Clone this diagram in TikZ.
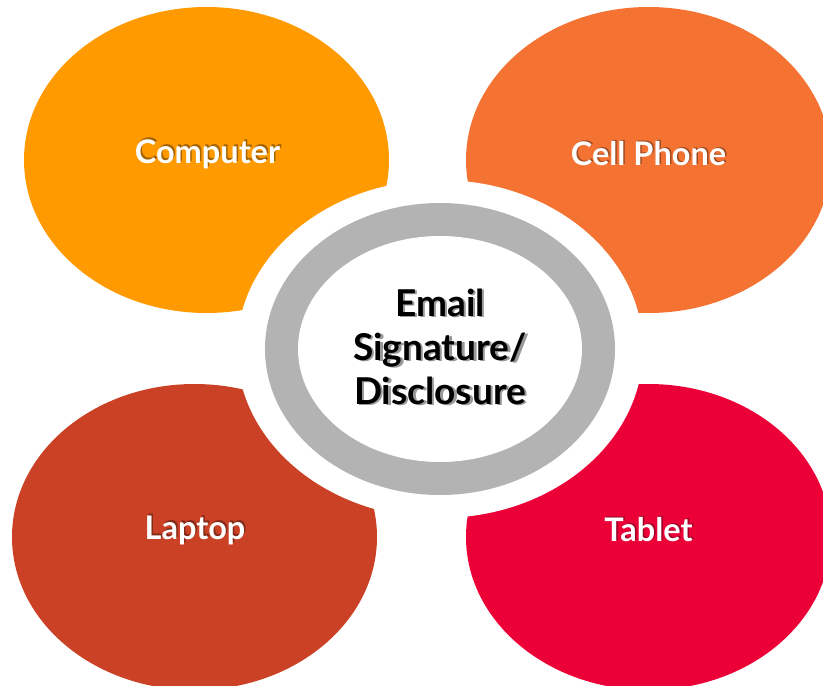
\documentclass[tikz,border=0pt]{standalone}
\usepackage{fontspec}
\setmainfont{Lato}[UprightFont=* Bold]
\definecolor{cOrange}{HTML}{FF9A00}
\definecolor{cCoral}{HTML}{F47333}
\definecolor{cRust}{HTML}{CB4125}
\definecolor{cRed}{HTML}{EB0038}
\definecolor{cGray}{HTML}{B3B3B3}
\begin{document}
\begin{tikzpicture}[x=1pt,y=-1pt,
  lbl/.style={font=\fontsize{32.5}{38}\selectfont, text=white, inner sep=0pt},
  lblsh/.style={font=\fontsize{32.5}{38}\selectfont, text=black, opacity=0.35, inner sep=0pt},
  ctr/.style={font=\fontsize{37}{44}\selectfont, text=black, align=center, inner sep=0pt},
  ctrsh/.style={font=\fontsize{37}{44}\selectfont, text=black!40, align=center, inner sep=0pt}]
\useasboundingbox (0,0) rectangle (823,686);
\clip (0,0) rectangle (823,686);
\coordinate (tl) at (206.5,160);
\coordinate (tr) at (648.5,160);
\coordinate (bl) at (194.5,537);
\coordinate (br) at (648.5,537);
\coordinate (c) at (440,349);
\fill[cOrange] (tl) ellipse [x radius=182.5pt, y radius=153pt];
\fill[cCoral] (tr) ellipse [x radius=182.5pt, y radius=153pt];
\fill[cRust] (bl) ellipse [x radius=182.5pt, y radius=153pt];
\fill[cRed] (br) ellipse [x radius=182.5pt, y radius=153pt];
\fill[white] (c) ellipse [x radius=203pt, y radius=169pt];
\fill[cGray] (c) ellipse [x radius=175pt, y radius=146pt];
\fill[white] (c) ellipse [x radius=142pt, y radius=113pt];
% outer labels
\node[lblsh] (comps) at ([shift={(1.5,-1.5)}]207.5,154) {Computer};
\node[lbl] (comp) at (207.5,154) {Computer};
\node[lblsh] (cells) at ([shift={(1.5,-1.5)}]648.5,154) {Cell Phone};
\node[lbl] (cell) at (648.5,154) {Cell Phone};
\node[lblsh] (laps) at ([shift={(1.5,-1.5)}]195,530) {Laptop};
\node[lbl] (lap) at (195,530) {Laptop};
\node[lblsh] (tabs) at ([shift={(1.5,-1.5)}]648.5,530) {Tablet};
\node[lbl] (tab) at (648.5,530) {Tablet};
% centre
\node[ctrsh] (mains) at (442.5,348) {Email\\Signature/\\Disclosure};
\node[ctr] (main) at (440,347) {Email\\Signature/\\Disclosure};
\end{tikzpicture}
\end{document}
